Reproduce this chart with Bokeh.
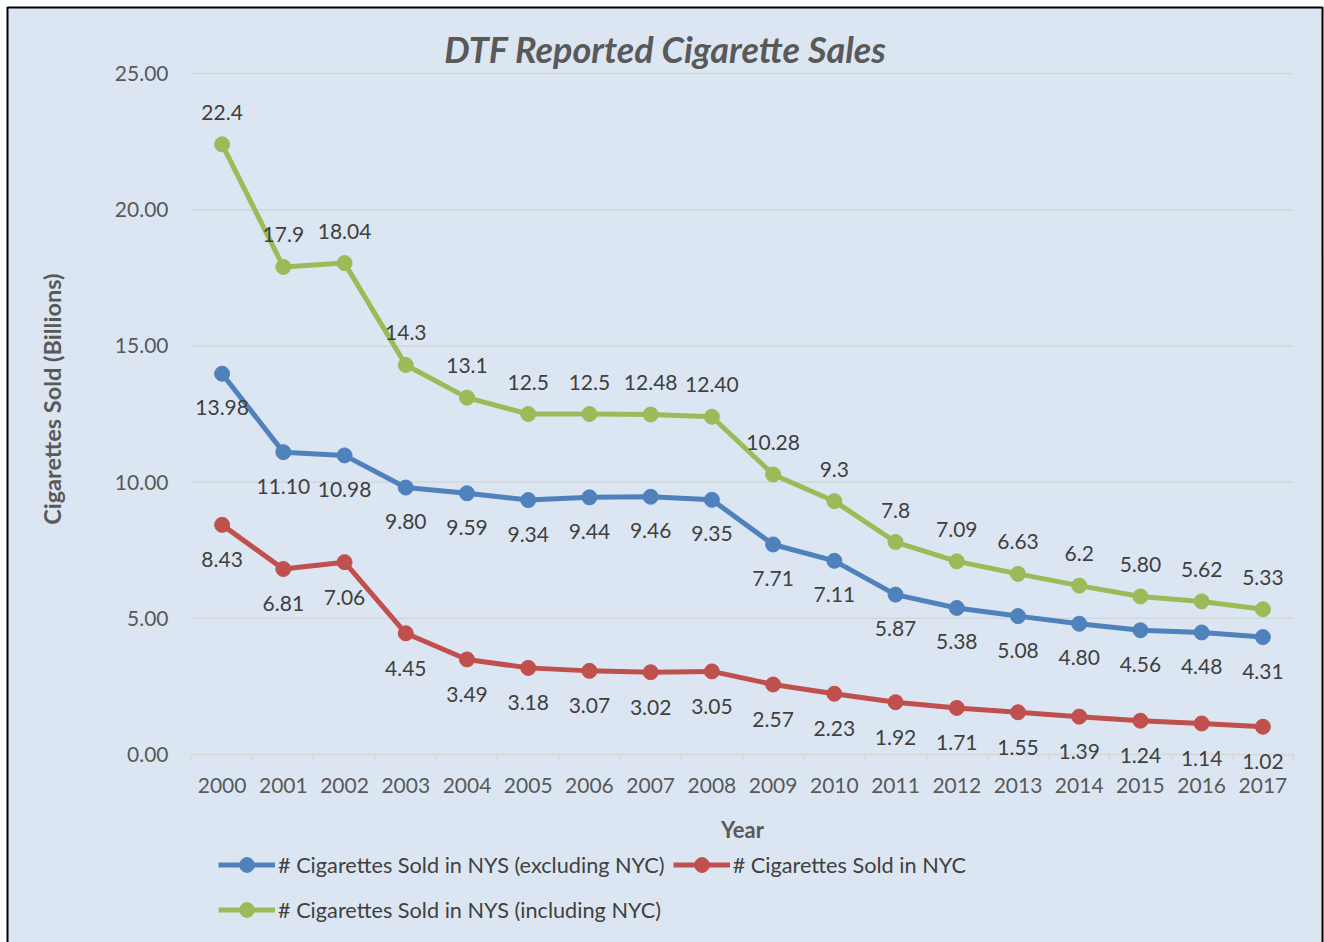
import math
from bokeh.plotting import figure
from bokeh.models import (Range1d, FixedTicker, LabelSet, Label, Legend, LegendItem, BoxAnnotation,
                          ColumnDataSource, NumeralTickFormatter)
from bokeh.core.properties import value
from bokeh.embed import file_html
from bokeh.resources import INLINE

years = list(range(2000, 2018))
nys_excl = [13.98, 11.10, 10.98, 9.80, 9.59, 9.34, 9.44, 9.46, 9.35, 7.71, 7.11, 5.87, 5.38, 5.08, 4.80, 4.56, 4.48, 4.31]
nyc = [8.43, 6.81, 7.06, 4.45, 3.49, 3.18, 3.07, 3.02, 3.05, 2.57, 2.23, 1.92, 1.71, 1.55, 1.39, 1.24, 1.14, 1.02]
nys_incl = [22.4, 17.9, 18.04, 14.3, 13.1, 12.5, 12.5, 12.48, 12.40, 10.28, 9.3, 7.8, 7.09, 6.63, 6.2, 5.80, 5.62, 5.33]
nys_excl_labels = ["13.98", "11.10", "10.98", "9.80", "9.59", "9.34", "9.44", "9.46", "9.35", "7.71", "7.11", "5.87", "5.38", "5.08", "4.80", "4.56", "4.48", "4.31"]
nyc_labels = ["8.43", "6.81", "7.06", "4.45", "3.49", "3.18", "3.07", "3.02", "3.05", "2.57", "2.23", "1.92", "1.71", "1.55", "1.39", "1.24", "1.14", "1.02"]
nys_incl_labels = ["22.4", "17.9", "18.04", "14.3", "13.1", "12.5", "12.5", "12.48", "12.40", "10.28", "9.3", "7.8", "7.09", "6.63", "6.2", "5.80", "5.62", "5.33"]
series_names = ["# Cigarettes Sold in NYS (excluding NYC)", "# Cigarettes Sold in NYC", "# Cigarettes Sold in NYS (including NYC)"]
y_ticks = [0, 5, 10, 15, 20, 25]

FONT = "Lato"
BG = "#dce6f2"
AXIS_GRAY = "#d9d9d9"
TEXT_GRAY = "#595959"
LABEL_GRAY = "#404040"
colors = ["#4f81bd", "#c0504d", "#9bbb59"]

# ---- layout (pixels in the 1324 x 942 canvas) ----
W, H = 1324, 942
PLOT_L, PLOT_R = 191, 1293      # pixel extent of the category band
PLOT_T, PLOT_B = 73, 754        # pixel positions of y = 25 and y = 0
x_lo, x_hi = years[0] - 0.5, years[-1] + 0.5
ppx = (PLOT_R - PLOT_L) / (x_hi - x_lo)
ppy = (PLOT_B - PLOT_T) / (y_ticks[-1] - y_ticks[0])
x_start = x_lo - PLOT_L / ppx
x_end = x_hi + (W - PLOT_R) / ppx
y_end = y_ticks[-1] + PLOT_T / ppy
y_start = y_ticks[0] - (H - PLOT_B) / ppy


def X(px):
    return x_start + px / ppx


def Y(py):
    return y_end - py / ppy


p = figure(width=W, height=H, output_backend="svg", toolbar_location=None,
           x_range=Range1d(x_start, x_end), y_range=Range1d(y_start, y_end),
           min_border=0, min_border_left=0, min_border_right=0, min_border_top=0, min_border_bottom=0)
p.background_fill_color = "white"
p.border_fill_color = "white"
p.outline_line_color = None
p.xgrid.visible = False
p.ygrid.visible = False

# chart area with black border
p.add_layout(BoxAnnotation(left=X(7), right=X(1322), top=Y(7), bottom=Y(H + 20),
                           fill_color=BG, fill_alpha=1, line_color="black", line_alpha=1,
                           line_width=2, level="underlay"))

# horizontal gridlines
p.segment(x0=[x_lo] * 5, y0=y_ticks[1:], x1=[x_hi] * 5, y1=y_ticks[1:],
          line_color="#d3d6da", line_width=1.5)

# y axis at the left edge of the category band
p.yaxis.fixed_location = x_lo
p.yaxis.bounds = (y_ticks[0], y_ticks[-1])
p.yaxis.ticker = FixedTicker(ticks=y_ticks)
p.yaxis.formatter = NumeralTickFormatter(format="0.00")
p.yaxis.axis_line_color = None
p.yaxis.major_tick_line_color = None
p.yaxis.minor_tick_line_color = None
p.yaxis.major_tick_out = 0
p.yaxis.major_tick_in = 0
p.yaxis.major_label_standoff = 23
p.yaxis.major_label_text_font = FONT
p.yaxis.major_label_text_font_size = "21px"
p.yaxis.major_label_text_color = TEXT_GRAY

# x axis at y = 0
p.xaxis.fixed_location = 0
p.xaxis.bounds = (x_lo, x_hi)
p.xaxis.ticker = FixedTicker(ticks=years, minor_ticks=[y - 0.5 for y in years] + [x_hi])
p.xaxis.major_label_overrides = {y: str(y) for y in years}
p.xaxis.axis_line_color = AXIS_GRAY
p.xaxis.axis_line_width = 2
p.xaxis.major_tick_line_color = None
p.xaxis.major_tick_out = 7
p.xaxis.major_tick_in = 0
p.xaxis.minor_tick_line_color = AXIS_GRAY
p.xaxis.minor_tick_line_width = 2
p.xaxis.minor_tick_out = 7
p.xaxis.minor_tick_in = 0
p.xaxis.major_label_standoff = 16
p.xaxis.major_label_text_font = FONT
p.xaxis.major_label_text_font_size = "21px"
p.xaxis.major_label_text_color = TEXT_GRAY
p.xaxis.axis_label = "Year"
p.xaxis.axis_label_text_font = FONT
p.xaxis.axis_label_text_font_style = "bold"
p.xaxis.axis_label_text_font_size = "22px"
p.xaxis.axis_label_text_color = TEXT_GRAY
p.xaxis.axis_label_standoff = 20

# series
series = [(nys_excl, nys_excl_labels, -34), (nyc, nyc_labels, -35), (nys_incl, nys_incl_labels, 32)]
items = []
for (vals, labs, off), color, name in zip(series, colors, series_names):
    src = ColumnDataSource(dict(x=years, y=vals, t=labs))
    r1 = p.line("x", "y", source=src, line_color=color, line_width=5, line_join="round")
    r2 = p.scatter("x", "y", source=src, marker="circle", size=15, fill_color=color, line_color=color)
    items.append(LegendItem(label=name, renderers=[r1, r2]))
    p.add_layout(LabelSet(x="x", y="y", text="t", source=src, y_offset=off,
                          text_align="center", text_baseline="middle",
                          text_font=value(FONT), text_font_size=value("21px"), text_color=LABEL_GRAY))

legend = Legend(items=items, location=(218, 14), orientation="horizontal", ncols=2,
                glyph_width=57, glyph_height=37, spacing=8, label_standoff=3,
                padding=0, margin=0,
                label_text_font=FONT, label_text_font_size="21.7px", label_text_color=LABEL_GRAY,
                border_line_color=None, background_fill_alpha=0)
p.add_layout(legend, "center")

# title and y-axis title
p.add_layout(Label(x=X(665), y=Y(48), text="DTF Reported Cigarette Sales",
                   text_align="center", text_baseline="alphabetic", text_font=FONT,
                   text_font_style="bold italic", text_font_size="36px", text_color=TEXT_GRAY))
p.add_layout(Label(x=X(51), y=Y(393), text="Cigarettes  Sold  (Billions)",
                   angle=math.pi / 2, text_align="center", text_baseline="middle", text_font=FONT,
                   text_font_style="bold", text_font_size="23.5px", text_color=TEXT_GRAY))

open("out.html", "w").write(file_html(p, INLINE))
